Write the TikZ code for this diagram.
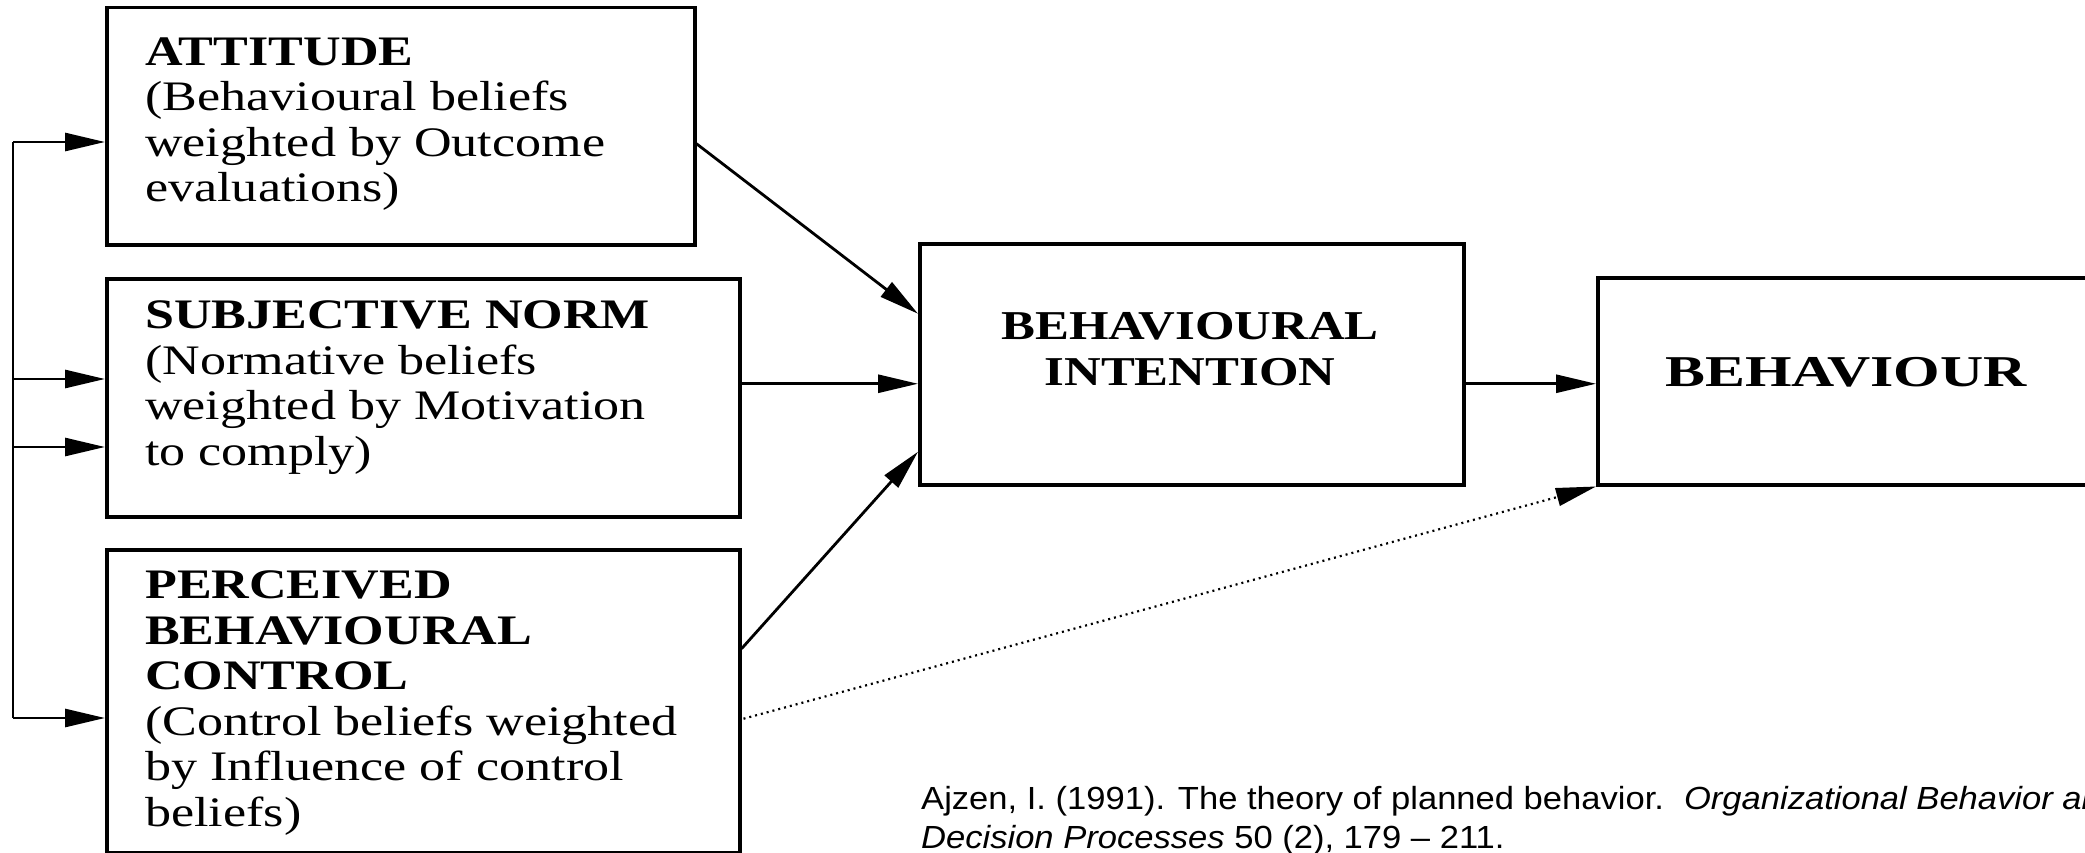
\documentclass[tikz,border=0pt]{standalone}
\usepackage{fontspec}
\usetikzlibrary{arrows.meta,calc}
\newfontfamily\boxfont[FakeStretch=1.24]{Liberation Serif}
\newfontfamily\behfont[FakeStretch=1.36]{Liberation Serif}
\newfontfamily\citefont[FakeStretch=1.08]{Liberation Sans}
\begin{document}
\begin{tikzpicture}[x=1pt,y=-1pt,
  box/.style={draw,line width=3.5pt,rectangle,inner sep=0pt,anchor=north west},
  boxtext/.style={inner sep=0pt,anchor=north west,align=left,
    font=\boxfont\fontsize{42}{45.5}\selectfont},
  link/.style={line width=2.8pt},
  arr/.style={line width=2.8pt,-{Triangle[length=40pt,width=18pt]}},
  dotarr/.style={line width=2.2pt,dash pattern=on 2pt off 4pt,
    -{Triangle[length=40pt,width=18pt]}},
  cite/.style={inner sep=0pt,anchor=base west,
    font=\citefont\fontsize{32}{39}\selectfont}]
\useasboundingbox (0,0) rectangle (2085,853);
\clip (0,0) rectangle (2085,853);

% boxes
\node[box,minimum width=588pt,minimum height=237pt] (att) at (105,6) {};
\node[box,minimum width=633pt,minimum height=238pt] (sn) at (105,277) {};
\node[box,minimum width=633pt,minimum height=303pt] (pbc) at (105,548) {};
\node[box,minimum width=544pt,minimum height=241pt] (bi) at (918,242) {};
\node[box,minimum width=501pt,minimum height=207pt] (beh) at (1596,276) {};

% box texts
\node[boxtext] (att-t) at (145,37.5)
  {\textbf{ATTITUDE}\\(Behavioural beliefs\\weighted by Outcome\\evaluations)};
\node[boxtext] (sn-t) at (145,300.6)
  {\textbf{SUBJECTIVE NORM}\\(Normative beliefs\\weighted by Motivation\\to comply)};
\node[boxtext] (pbc-t) at (145,570.6)
  {\textbf{PERCEIVED}\\\textbf{BEHAVIOURAL}\\\textbf{CONTROL}\\(Control beliefs weighted\\by Influence of control\\beliefs)};
\node[boxtext,anchor=north,align=center,font=\boxfont\fontsize{41}{46}\selectfont] (bi-t) at (1190,312)
  {\textbf{BEHAVIOURAL}\\\textbf{INTENTION}};
\node[inner sep=0pt,anchor=base,font=\behfont\fontsize{44}{50}\selectfont] (beh-t) at (1846.5,386)
  {\textbf{BEHAVIOUR}};

% feedback rail on the left
\coordinate (rt) at (13,142);
\coordinate (rb) at (13,718);
\coordinate (r2) at (13,379);
\coordinate (r3) at (13,447);
\draw[link] (rt) -- (rb);
\draw[arr] (rt) -- (rt -| att.west);
\draw[arr] (r2) -- (r2 -| sn.west);
\draw[arr] (r3) -- (r3 -| sn.west);
\draw[arr] (rb) -- (rb -| pbc.west);

% paths into behavioural intention and behaviour
\coordinate (attout) at ($(att.east)+(0,17.5)$);
\coordinate (biin1) at ($(bi.west)+(0,-50.5)$);
\coordinate (snout) at ($(sn.east)+(0,-14)$);
\coordinate (pbcout) at ($(pbc.east)+(0,-52.5)$);
\coordinate (biin3) at ($(bi.west)+(0,87.5)$);
\coordinate (pbcdot) at ($(pbc.east)+(2,17.5)$);
\draw[arr] (attout) -- (biin1);
\draw[arr] (snout) -- (snout -| bi.west);
\draw[arr] (pbcout) -- (biin3);
\draw[arr] (bi.east |- snout) -- (beh.west |- snout);
\draw[dotarr] (pbcdot) -- (beh.south west);

% reference
\node[cite] (cite1) at (921,809)
  {Ajzen, I. (1991). The theory of planned behavior.\hspace{20pt}\textit{Organizational Behavior and Human}};
\node[cite] (cite2) at (921,848)
  {\textit{Decision Processes} 50 (2), 179 – 211.};
\end{tikzpicture}
\end{document}
